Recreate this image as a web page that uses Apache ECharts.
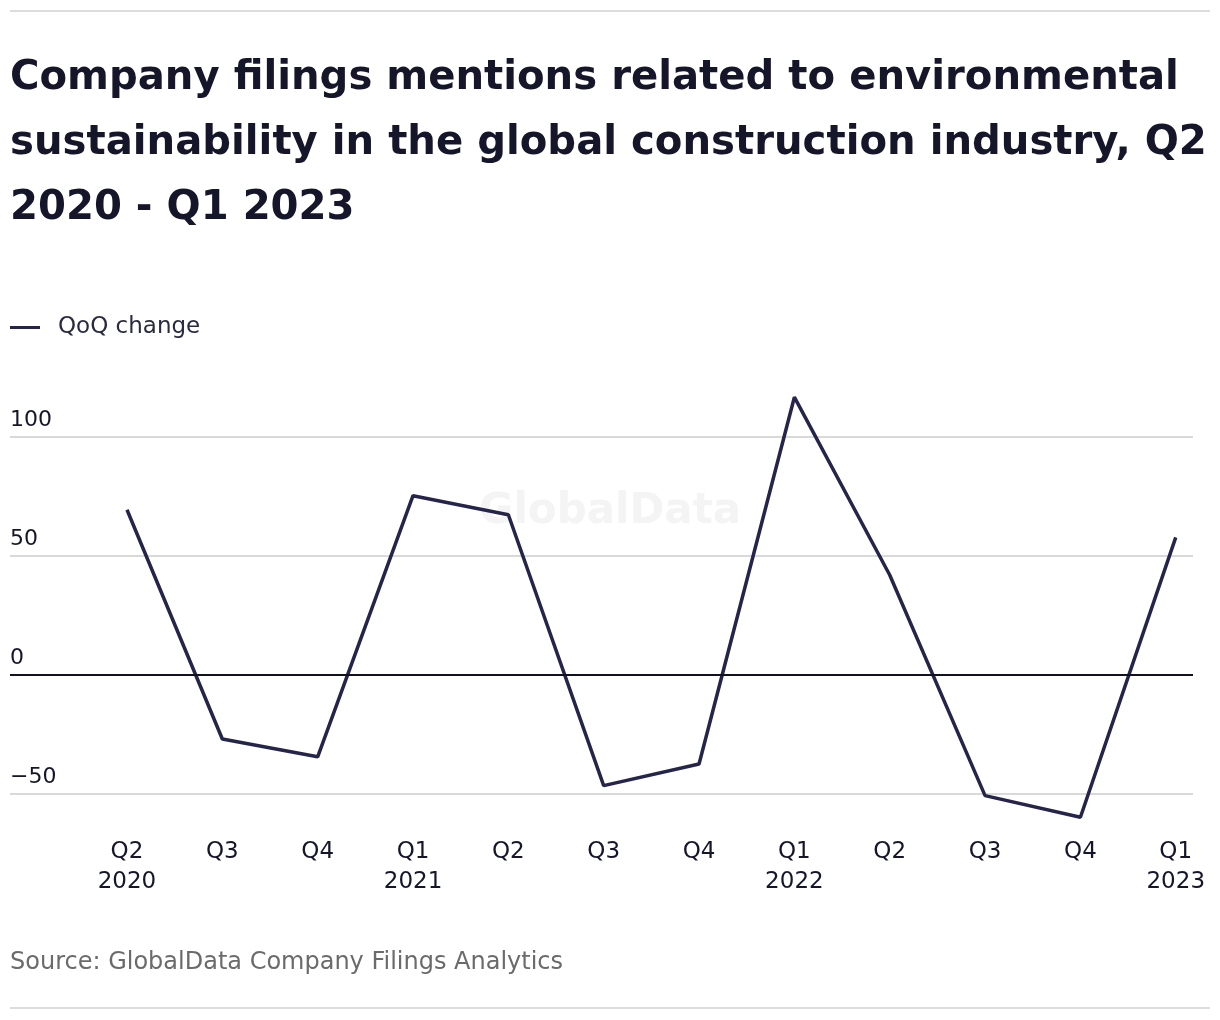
<!DOCTYPE html>
<html>
<head>
<meta charset="utf-8">
<script src="https://cdn.jsdelivr.net/npm/echarts@6/dist/echarts.min.js"></script>
<style>
html,body{margin:0;padding:0;background:#fff;}
#chart{width:1220px;height:1020px;}
</style>
</head>
<body>
<div id="chart"></div>
<script>
const quarters = ['Q2','Q3','Q4','Q1','Q2','Q3','Q4','Q1','Q2','Q3','Q4','Q1'];
const years = ['2020','','','2021','','','','2022','','','','2023'];
const qoqChange = [69.3, -27.0, -34.5, 75.2, 67.2, -46.6, -37.5, 116.6, 41.9, -50.8, -59.9, 57.7];

const FONT = '"DejaVu Sans", "Noto Sans", sans-serif';
const ink = '#16162b';
const lineColor = '#25254a';

const chart = echarts.init(document.getElementById('chart'));
chart.setOption({
  backgroundColor: '#fff',
  animation: false,
  title: {
    text: 'Company filings mentions related to environmental\nsustainability in the global construction industry, Q2\n2020 - Q1 2023',
    left: 10, top: 46, padding: 0,
    textStyle: { fontFamily: FONT, fontSize: 40.2, fontWeight: 700, color: ink, lineHeight: 65 }
  },
  legend: {
    left: 10, top: 316, padding: 0,
    icon: 'rect', itemWidth: 30, itemHeight: 3,
    textStyle: { fontFamily: FONT, fontSize: 23, color: '#2a2a40', padding: [0,0,0,13] },
    data: ['QoQ change']
  },
  graphic: [
    { type: 'rect', shape: { x: 10, y: 10, width: 1200, height: 2 }, style: { fill: '#dcdcdc' } },
    { type: 'rect', shape: { x: 10, y: 1007, width: 1200, height: 2 }, style: { fill: '#dcdcdc' } },
    { type: 'text', left: 10, top: 951, style: { text: 'Source: GlobalData Company Filings Analytics', font: '24px ' + FONT, fill: '#6b6b6b' } },
    { type: 'text', x: 610, y: 512, z: -1, style: { text: 'GlobalData', font: 'bold 42px ' + FONT, fill: '#f4f4f4', align: 'center', verticalAlign: 'middle' } }
  ],
  grid: { left: 10, right: 27, top: 436.7, bottom: 1020 - 793.7, containLabel: false },
  xAxis: {
    type: 'value',
    min: -1.227, max: 11.181,
    axisLine: { show: false },
    axisTick: { show: false },
    splitLine: { show: false },
    axisLabel: {
      customValues: quarters.map((q, i) => i),
      margin: 43,
      fontFamily: FONT, fontSize: 23, color: ink, lineHeight: 30,
      formatter: v => { const i = Math.round(v); return quarters[i] + (years[i] ? '\n' + years[i] : ''); }
    }
  },
  yAxis: {
    type: 'value',
    min: -50, max: 100, interval: 50,
    axisLine: { show: false },
    axisTick: { show: false },
    splitLine: { show: true, lineStyle: { color: '#d9d9d9', width: 2 } },
    axisLabel: {
      inside: true, margin: 0,
      verticalAlign: 'bottom', padding: [0, 0, 5, 0],
      fontFamily: FONT, fontSize: 22, color: ink,
      formatter: v => String(v).replace('-', '\u2212')
    }
  },
  series: [{
    name: 'QoQ change',
    type: 'line',
    clip: false,
    symbol: 'none',
    color: lineColor,
    lineStyle: { width: 3.5, color: lineColor },
    data: qoqChange.map((v, i) => [i, v]),
    markLine: {
      silent: true, symbol: 'none', label: { show: false },
      lineStyle: { color: '#111122', width: 2, type: 'solid' },
      data: [{ yAxis: 0 }]
    },
    z: 3
  }]
});
</script>
</body>
</html>
